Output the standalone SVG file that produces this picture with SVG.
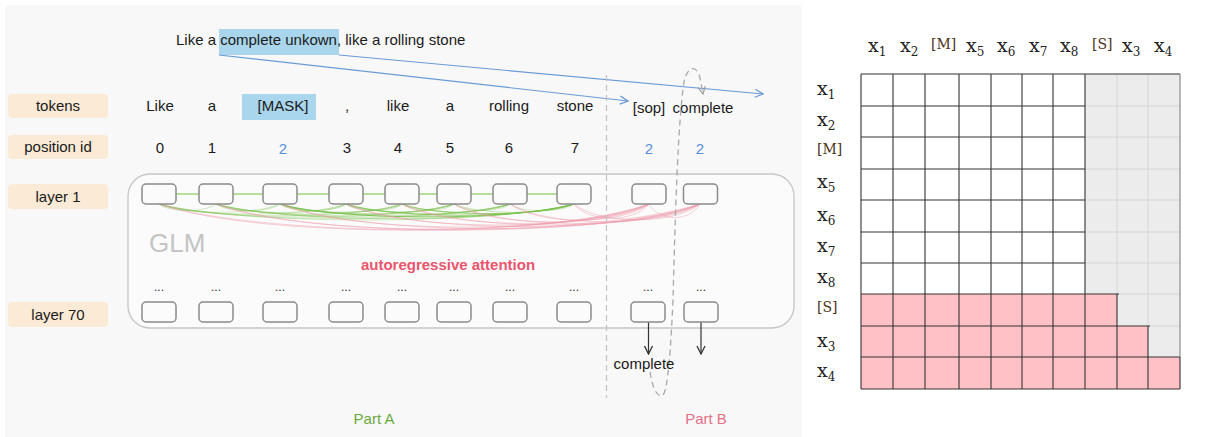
<svg xmlns="http://www.w3.org/2000/svg" width="1207" height="437" viewBox="0 0 1207 437">
<style>
.sans{font-family:"Liberation Sans",Arial,sans-serif;}
.tok{font-family:"Liberation Sans",Arial,sans-serif;font-size:15px;fill:#1a1a1a;text-anchor:middle;}
.blue{fill:#5a8fd8;}
.pill{fill:#fbebd6;}
.node{fill:#fbfbfb;stroke:#8a8a8a;stroke-width:1.5;}
.dots{font-family:"Liberation Sans",Arial,sans-serif;font-size:12px;fill:#333;text-anchor:middle;}
.g{fill:none;stroke:#78c04a;stroke-width:1;}
.p{fill:none;stroke:#ee96a8;stroke-width:1;stroke-opacity:.45;}
.ser{font-family:"DejaVu Serif","Liberation Serif",serif;fill:#222;}
.xl{font-size:19px;}
.sb{font-size:12px;}
.br{font-size:14px;fill:#4b3621;}
</style>
<defs>
<marker id="ab" viewBox="0 0 10 10" refX="9" refY="5" markerWidth="10" markerHeight="10" markerUnits="userSpaceOnUse" orient="auto"><path d="M1,1 L9,5 L1,9" fill="none" stroke="#6a9ad6" stroke-width="1.3"/></marker>
<marker id="ak" viewBox="0 0 10 10" refX="9" refY="5" markerWidth="10" markerHeight="10" markerUnits="userSpaceOnUse" orient="auto"><path d="M1,1 L9,5 L1,9" fill="none" stroke="#333" stroke-width="1.3"/></marker>
<marker id="ag" viewBox="0 0 10 10" refX="9" refY="5" markerWidth="9" markerHeight="9" markerUnits="userSpaceOnUse" orient="auto"><path d="M1,1 L9,5 L1,9" fill="none" stroke="#999" stroke-width="1.3"/></marker>
</defs>
<rect x="0" y="0" width="1207" height="437" fill="#ffffff"/>
<rect x="5" y="5" width="797" height="432" fill="#f8f8f8"/>

<g id="sentence">
<rect x="219" y="29" width="120" height="26" fill="#a9d6ec"/>
<text class="sans" x="176" y="45" font-size="15" fill="#1a1a1a">Like a complete unkown, like a rolling stone</text>
</g>

<g id="label-tokens"><rect class="pill" x="8" y="94" width="100" height="24" rx="4"/><text class="tok" x="58" y="111">tokens</text></g>
<g id="label-position"><rect class="pill" x="8" y="135" width="100" height="24" rx="4"/><text class="tok" x="58" y="152">position id</text></g>
<g id="label-layer1"><rect class="pill" x="8" y="184" width="100" height="25" rx="4"/><text class="tok" x="58" y="202">layer 1</text></g>
<g id="label-layer70"><rect class="pill" x="8" y="302" width="100" height="25" rx="4"/><text class="tok" x="58" y="320">layer 70</text></g>

<g id="tokens">
<rect x="242" y="94" width="74" height="26" fill="#a9d6ec"/>
<text class="tok" x="160" y="111">Like</text>
<text class="tok" x="212" y="111">a</text>
<text class="tok" x="283" y="111">[MASK]</text>
<text class="tok" x="347" y="111">,</text>
<text class="tok" x="398" y="111">like</text>
<text class="tok" x="450" y="111">a</text>
<text class="tok" x="509" y="111">rolling</text>
<text class="tok" x="575" y="111">stone</text>
<text class="tok" x="649" y="113">[sop]</text>
<text class="tok" x="703" y="113">complete</text>
</g>

<g id="positions">
<text class="tok" x="160" y="153">0</text>
<text class="tok" x="212" y="153">1</text>
<text class="tok blue" x="283" y="154">2</text>
<text class="tok" x="347" y="153">3</text>
<text class="tok" x="398" y="153">4</text>
<text class="tok" x="450" y="153">5</text>
<text class="tok" x="509" y="153">6</text>
<text class="tok" x="575" y="153">7</text>
<text class="tok blue" x="649" y="154">2</text>
<text class="tok blue" x="700" y="154">2</text>
</g>

<g id="glm">
<rect x="128" y="174" width="666" height="154" rx="22" fill="#fbfbfb" stroke="#c6c6c6" stroke-width="1.3"/>
<text class="sans" x="149" y="252" font-size="26" fill="#c4c4c4">GLM</text>
<text class="sans" x="448" y="270" font-size="15" font-weight="bold" fill="#e8556d" text-anchor="middle">autoregressive attention</text>
</g>

<g id="connectors">
<line x1="159" y1="194" x2="574" y2="194" stroke="#9fd67a" stroke-width="1.5"/>
<g id="green-arcs">
<path class="g" stroke-opacity=".35" d="M159,204 C170,212.7 205,212.7 216,204"/>
<path class="g" stroke-opacity=".3" d="M159,204 C183,215 256,215 280,204"/>
<path class="g" stroke-opacity=".3" d="M159,204 C196,217.4 309,217.4 346,204"/>
<path class="g" stroke-opacity=".3" d="M159,204 C208,219.5 353,219.5 402,204"/>
<path class="g" stroke-opacity=".3" d="M159,204 C218,221.3 395,221.3 454,204"/>
<path class="g" stroke-opacity=".3" d="M159,204 C229,223.3 440,223.3 510,204"/>
<path class="g" stroke-opacity=".35" d="M159,204 C242,225.3 491,225.3 574,204"/>
<path class="g" stroke-opacity=".4" d="M216,204 C229,213 267,213 280,204"/>
<path class="g" stroke-opacity=".35" d="M216,204 C242,215.3 320,215.3 346,204"/>
<path class="g" stroke-opacity=".35" d="M216,204 C253,217.3 365,217.3 402,204"/>
<path class="g" stroke-opacity=".35" d="M216,204 C264,219.2 406,219.2 454,204"/>
<path class="g" stroke-opacity=".35" d="M216,204 C275,221.2 451,221.2 510,204"/>
<path class="g" stroke-opacity=".5" d="M216,204 C288,223.6 502,223.6 574,204"/>
<path class="g" stroke-opacity=".5" d="M280,204 C293,213 333,213 346,204"/>
<path class="g" stroke-opacity=".6" d="M280,204 C304,215 378,215 402,204"/>
<path class="g" stroke-opacity=".5" d="M280,204 C315,217 419,217 454,204"/>
<path class="g" stroke-opacity=".5" d="M280,204 C326,219 464,219 510,204"/>
<path class="g" stroke-opacity=".9" stroke-width="1.3" d="M280,204 C339,221.2 515,221.2 574,204"/>
<path class="g" stroke-opacity=".4" d="M346,204 C357,212.7 391,212.7 402,204"/>
<path class="g" stroke-opacity=".4" d="M346,204 C368,214.5 432,214.5 454,204"/>
<path class="g" stroke-opacity=".4" d="M346,204 C379,216.6 477,216.6 510,204"/>
<path class="g" stroke-opacity=".85" stroke-width="1.3" d="M346,204 C392,218.9 528,218.9 574,204"/>
<path class="g" stroke-opacity=".3" d="M402,204 C412,212.5 444,212.5 454,204"/>
<path class="g" stroke-opacity=".3" d="M402,204 C424,214.5 488,214.5 510,204"/>
<path class="g" stroke-opacity=".8" stroke-width="1.3" d="M402,204 C436,216.8 540,216.8 574,204"/>
<path class="g" stroke-opacity=".3" d="M454,204 C465,212.7 499,212.7 510,204"/>
<path class="g" stroke-opacity=".4" d="M454,204 C478,215 550,215 574,204"/>
<path class="g" stroke-opacity=".3" d="M510,204 C523,213 561,213 574,204"/>
</g>
<g id="pink-arcs">
<path class="p" d="M159,204 C267,238.7 592,238.7 700,204"/>
<path class="p" d="M216,204 C313,238.7 603,238.7 700,204"/>
<path class="p" d="M280,204 C364,236.8 616,236.8 700,204"/>
<path class="p" d="M346,204 C417,234.1 629,234.1 700,204"/>
<path class="p" d="M402,204 C462,231.9 640,231.9 700,204"/>
<path class="p" d="M454,204 C503,229.9 651,229.9 700,204"/>
<path class="p" d="M510,204 C548,227.6 662,227.6 700,204"/>
<path class="p" d="M574,204 C599,225 675,225 700,204"/>
<path class="p" d="M649,204 C659,222 690,222 700,204"/>
<path class="p" d="M159,204 C257,238.7 551,238.7 649,204"/>
<path class="p" d="M216,204 C303,237.3 562,237.3 649,204"/>
<path class="p" d="M280,204 C354,234.7 575,234.7 649,204"/>
<path class="p" d="M346,204 C407,232 588,232 649,204"/>
<path class="p" d="M402,204 C451,229.9 600,229.9 649,204"/>
<path class="p" d="M454,204 C493,227.8 610,227.8 649,204"/>
<path class="p" d="M510,204 C538,225.6 621,225.6 649,204"/>
<path class="p" d="M574,204 C589,223 634,223 649,204"/>
</g>
<line x1="219" y1="55" x2="628" y2="101" stroke="#6a9ad6" stroke-width="1.2" marker-end="url(#ab)"/>
<line x1="339" y1="55" x2="763" y2="94" stroke="#6a9ad6" stroke-width="1.2" marker-end="url(#ab)"/>
<line x1="606.5" y1="75" x2="606.5" y2="398" stroke="#c2c2c2" stroke-width="1.2" stroke-dasharray="6,4"/>
<path d="M650,372 C653,392 659,398 663,395 C668,390 671,345 673,300 C675,220 678,120 684,82 C687,66 697,64 700,78 L703,94" fill="none" stroke="#a8a8a8" stroke-width="1.3" stroke-dasharray="6,4" marker-end="url(#ag)"/>
<line x1="648.5" y1="322" x2="648.5" y2="354" stroke="#333" stroke-width="1.2" marker-end="url(#ak)"/>
<line x1="701" y1="322" x2="701" y2="354" stroke="#333" stroke-width="1.2" marker-end="url(#ak)"/>
</g>

<g id="layer1">
<rect class="node" x="142" y="184" width="34" height="20" rx="4"/>
<rect class="node" x="199" y="184" width="34" height="20" rx="4"/>
<rect class="node" x="263" y="184" width="34" height="20" rx="4"/>
<rect class="node" x="329" y="184" width="34" height="20" rx="4"/>
<rect class="node" x="385" y="184" width="34" height="20" rx="4"/>
<rect class="node" x="437" y="184" width="34" height="20" rx="4"/>
<rect class="node" x="493" y="184" width="34" height="20" rx="4"/>
<rect class="node" x="557" y="184" width="34" height="20" rx="4"/>
<rect class="node" x="632" y="184" width="34" height="20" rx="4"/>
<rect class="node" x="683.5" y="184" width="34" height="20" rx="4"/>
</g>

<g id="layer70">
<text class="dots" x="159" y="291">...</text>
<text class="dots" x="216" y="291">...</text>
<text class="dots" x="280" y="291">...</text>
<text class="dots" x="346" y="291">...</text>
<text class="dots" x="402" y="291">...</text>
<text class="dots" x="454" y="291">...</text>
<text class="dots" x="510" y="291">...</text>
<text class="dots" x="574" y="291">...</text>
<text class="dots" x="648" y="291">...</text>
<text class="dots" x="701" y="291">...</text>
<rect class="node" x="142" y="302" width="34" height="20" rx="4"/>
<rect class="node" x="199" y="302" width="34" height="20" rx="4"/>
<rect class="node" x="263" y="302" width="34" height="20" rx="4"/>
<rect class="node" x="329" y="302" width="34" height="20" rx="4"/>
<rect class="node" x="385" y="302" width="34" height="20" rx="4"/>
<rect class="node" x="437" y="302" width="34" height="20" rx="4"/>
<rect class="node" x="493" y="302" width="34" height="20" rx="4"/>
<rect class="node" x="557" y="302" width="34" height="20" rx="4"/>
<rect class="node" x="631" y="302" width="34" height="20" rx="4"/>
<rect class="node" x="684" y="302" width="34" height="20" rx="4"/>
</g>

<g id="output">
<text class="tok" x="644" y="369">complete</text>
</g>
<g id="parts">
<text class="sans" x="374" y="424" font-size="15" fill="#6aa83c" text-anchor="middle">Part A</text>
<text class="sans" x="706" y="424" font-size="15" fill="#e46f86" text-anchor="middle">Part B</text>
</g>

<g id="matrix">
<rect x="1085" y="74" width="95" height="220" fill="#ececec"/>
<rect x="1117" y="294" width="63" height="32" fill="#ececec"/>
<rect x="1148" y="326" width="32" height="31" fill="#ececec"/>
<rect x="861" y="294" width="256" height="32" fill="#ffc0c6"/>
<rect x="861" y="326" width="287" height="31" fill="#ffc0c6"/>
<rect x="861" y="357" width="319" height="32" fill="#ffc0c6"/>
<path d="M1117,74 V294 M1148,74 V326 M1085,106 H1180 M1085,137 H1180 M1085,169 H1180 M1085,200 H1180 M1085,232 H1180 M1085,263 H1180 M1117,294 H1180 M1148,326 H1180" stroke="#d6d6d6" stroke-width="1" fill="none"/>
<path d="M861,74 V389 M893,74 V389 M925,74 V389 M959,74 V389 M991,74 V389 M1022,74 V389 M1053,74 V389 M1085,74 V389 M1117,294 V389 M1148,326 V389 M1180,357 V389 M861,74 H1180 M861,106 H1085 M861,137 H1085 M861,169 H1085 M861,200 H1085 M861,232 H1085 M861,263 H1085 M861,294 H1119 M861,326 H1150 M861,357 H1180 M861,389 H1180" stroke="#333" stroke-width="1.1" fill="none"/>
<path d="M1180,74 V357" stroke="#777" stroke-width="1" fill="none"/>
</g>
<g id="col-labels" class="ser">
<text class="xl" x="868" y="52">x<tspan class="sb" dy="4">1</tspan></text>
<text class="xl" x="900" y="52">x<tspan class="sb" dy="4">2</tspan></text>
<text class="br" x="931" y="49">[M]</text>
<text class="xl" x="966" y="52">x<tspan class="sb" dy="4">5</tspan></text>
<text class="xl" x="997" y="52">x<tspan class="sb" dy="4">6</tspan></text>
<text class="xl" x="1029" y="52">x<tspan class="sb" dy="4">7</tspan></text>
<text class="xl" x="1060" y="52">x<tspan class="sb" dy="4">8</tspan></text>
<text class="br" x="1092" y="49">[S]</text>
<text class="xl" x="1122" y="52">x<tspan class="sb" dy="4">3</tspan></text>
<text class="xl" x="1154" y="52">x<tspan class="sb" dy="4">4</tspan></text>
</g>
<g id="row-labels" class="ser">
<text class="xl" x="817" y="95">x<tspan class="sb" dy="4">1</tspan></text>
<text class="xl" x="817" y="126">x<tspan class="sb" dy="4">2</tspan></text>
<text class="br" x="817" y="154">[M]</text>
<text class="xl" x="817" y="188">x<tspan class="sb" dy="4">5</tspan></text>
<text class="xl" x="817" y="221">x<tspan class="sb" dy="4">6</tspan></text>
<text class="xl" x="817" y="252">x<tspan class="sb" dy="4">7</tspan></text>
<text class="xl" x="817" y="283">x<tspan class="sb" dy="4">8</tspan></text>
<text class="br" x="817" y="312">[S]</text>
<text class="xl" x="817" y="347">x<tspan class="sb" dy="4">3</tspan></text>
<text class="xl" x="817" y="377">x<tspan class="sb" dy="4">4</tspan></text>
</g>
</svg>
